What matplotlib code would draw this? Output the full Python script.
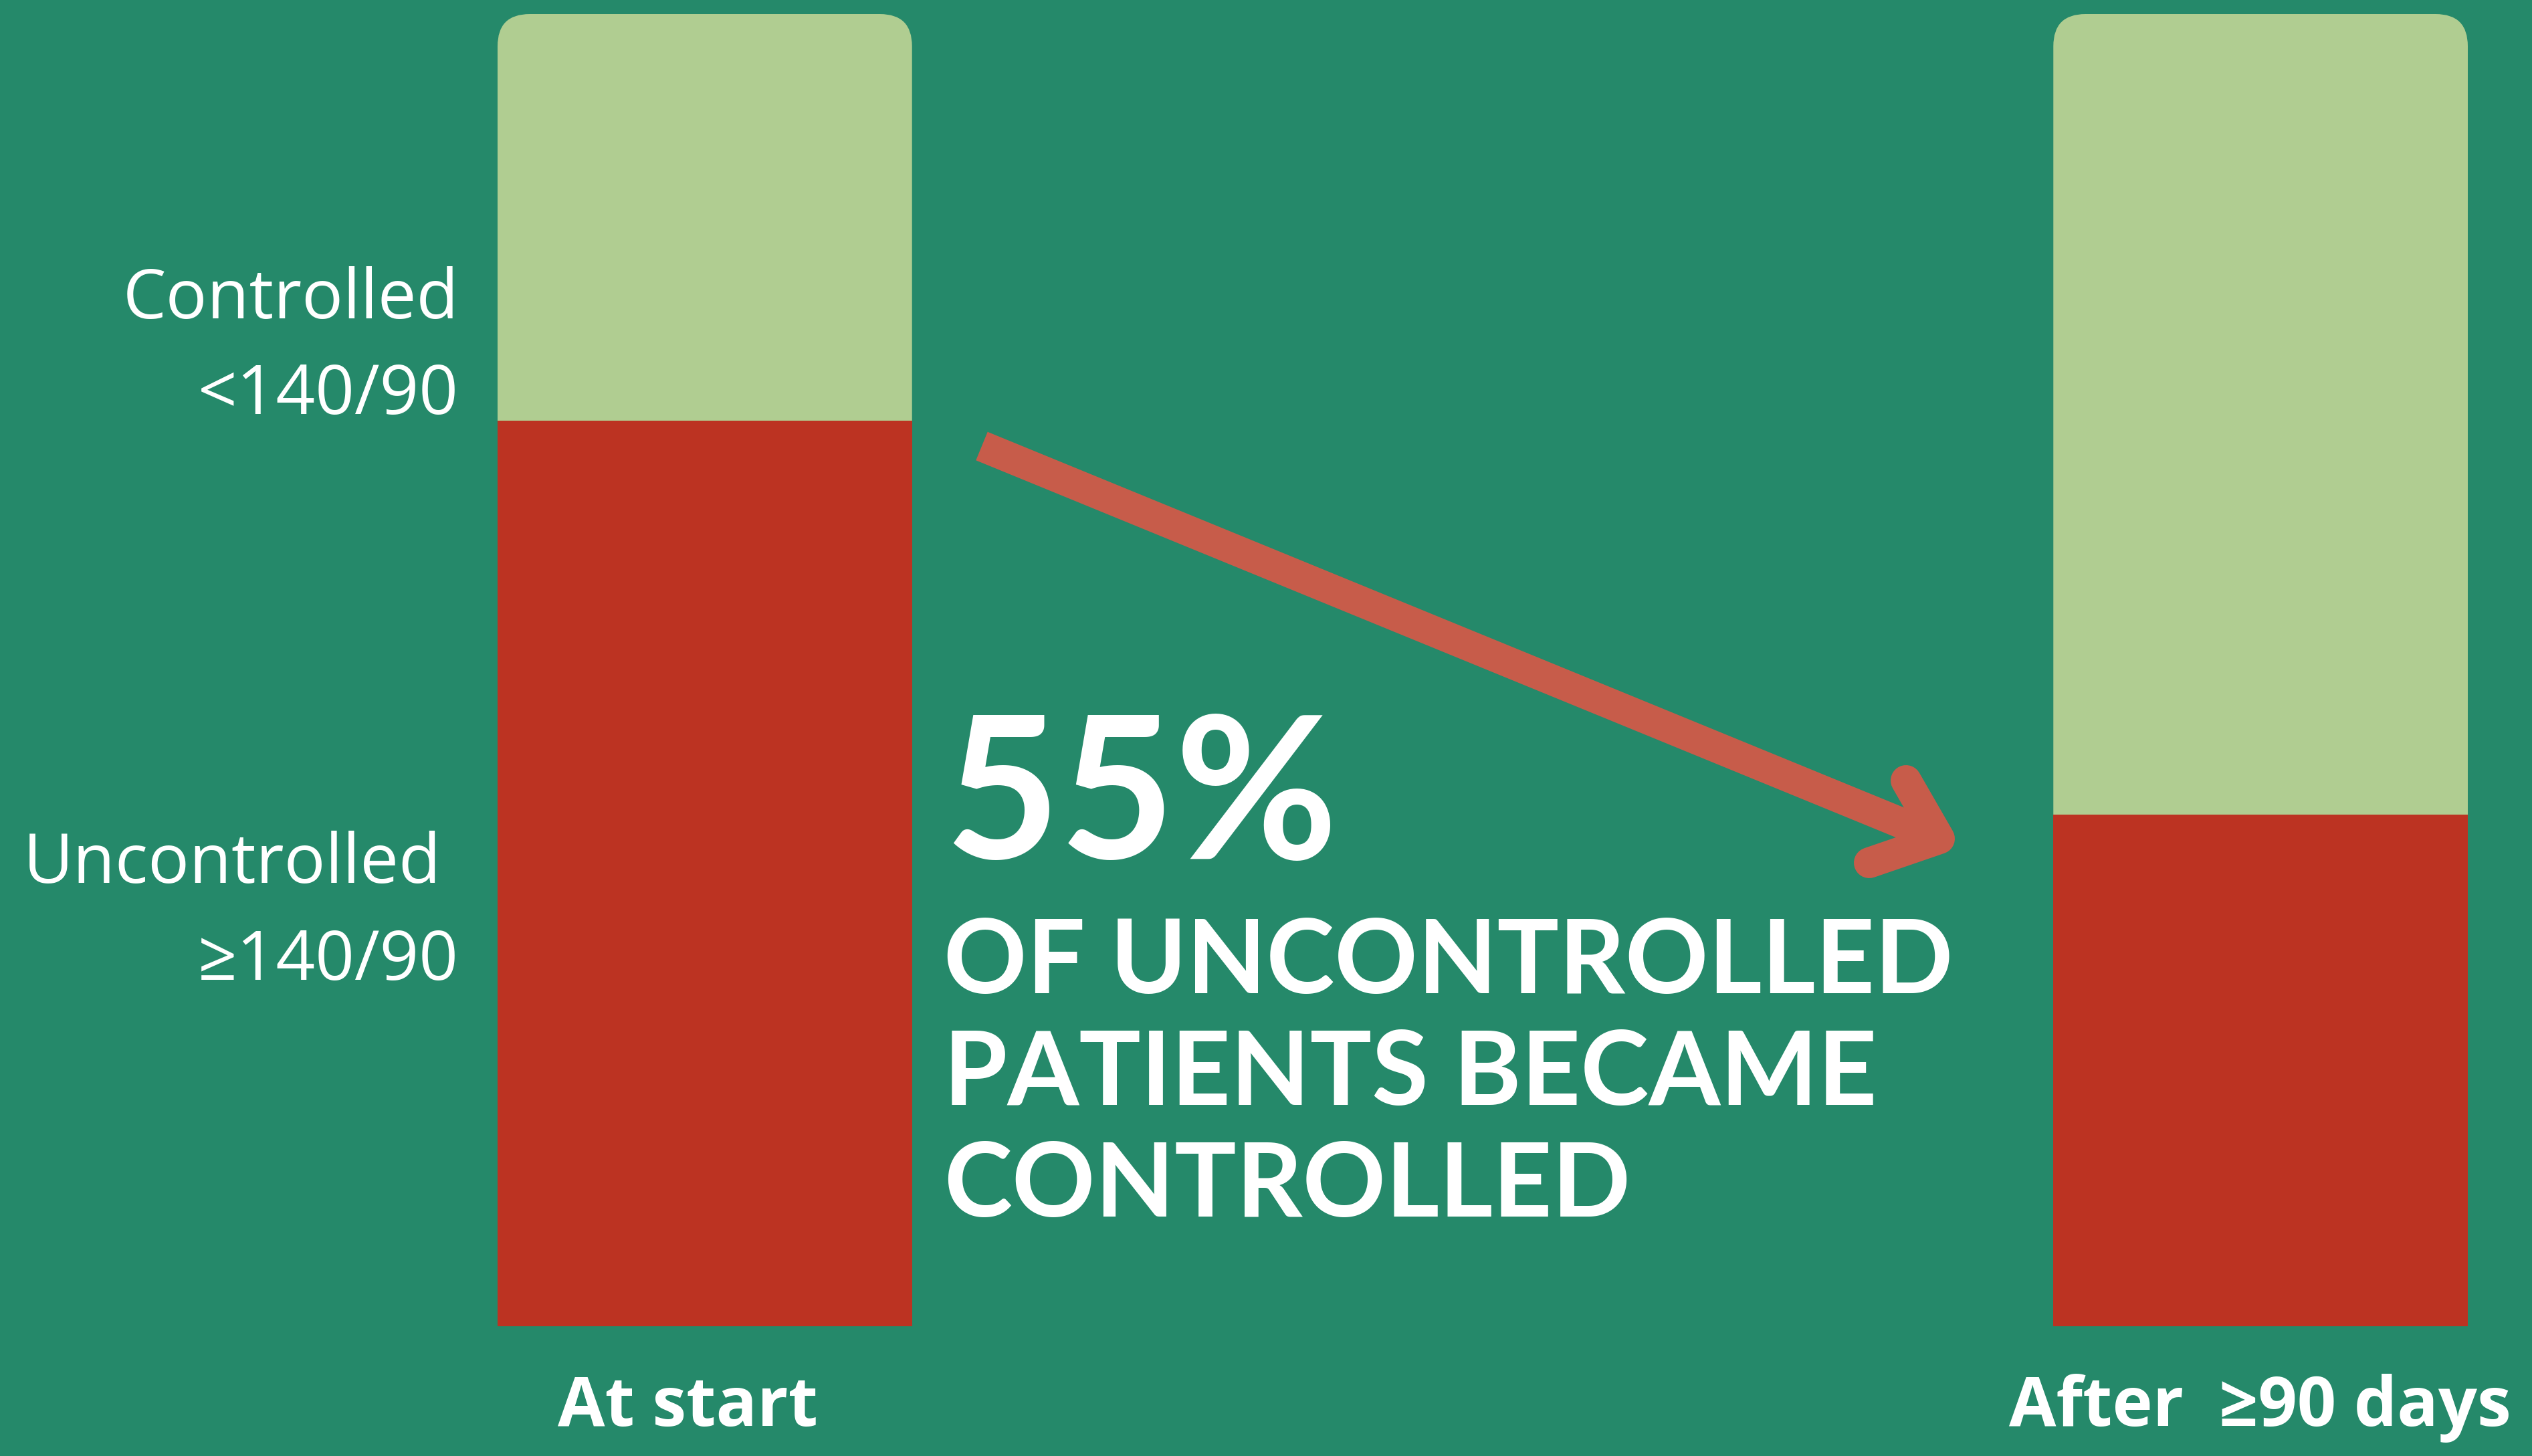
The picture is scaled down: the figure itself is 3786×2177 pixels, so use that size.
import numpy as np
import matplotlib
matplotlib.use("Agg")
import matplotlib.pyplot as plt
from matplotlib.patches import FancyBboxPatch

# data (percent of patients)
periods = ["At start", "After  \u226590 days"]
uncontrolled = [69, 39]
controlled = [31, 61]
stat_value = "55%"
stat_text = ["OF UNCONTROLLED", "PATIENTS BECAME", "CONTROLLED"]
legend_rows = [("Controlled", "<140/90"), ("Uncontrolled", "\u2265140/90")]

W, H = 3786, 2177
bg = "#25896A"
light_green = "#B0CD91"
red = "#BC3322"
arrow_col = "#C75C4A"

fig = plt.figure(figsize=(W / 100, H / 100), dpi=100)
fig.patch.set_facecolor(bg)

# bar axes, placed over the bar region (pixels 744..3690, 21..1983)
barw = 0.2664
ax = fig.add_axes([744 / W, (H - 1983) / H, (3690 - 744) / W, 1962 / H])
ax.set_xlim(-barw / 2, 1 + barw / 2)
ax.set_ylim(0, 100)
ax.axis("off")
ax.patch.set_alpha(0)

x = np.arange(len(periods))
red_bars = ax.bar(x, uncontrolled, width=barw, color=red, zorder=3, linewidth=0)
green_bars = ax.bar(x, controlled, bottom=uncontrolled, width=barw, color=light_green,
                    zorder=2, linewidth=0)

# rounded top corners: redraw green as a rounded box from 0 to top, red covers lower corners
fig.canvas.draw()
p0 = ax.transData.transform((0, 0))
p1 = ax.transData.transform((1, 1))
xu_per_px = 1 / (p1[0] - p0[0])
yu_per_px = 1 / (p1[1] - p0[1])
radius_px = 48
for b in green_bars:
    top = b.get_y() + b.get_height()
    patch = FancyBboxPatch((b.get_x(), 0), b.get_width(), top,
                           boxstyle="round,pad=0,rounding_size=%f" % (radius_px * xu_per_px),
                           mutation_aspect=yu_per_px / xu_per_px,
                           facecolor=light_green, edgecolor="none", zorder=2)
    ax.add_patch(patch)
    b.set_visible(False)

# overlay axes in pixel coordinates for labels and arrow
ov = fig.add_axes([0, 0, 1, 1])
ov.set_xlim(0, W)
ov.set_ylim(H, 0)
ov.axis("off")
ov.patch.set_alpha(0)

sans = ["Open Sans", "DejaVu Sans"]
lab_size = 74
ov.text(686, 476, legend_rows[0][0], ha="right", va="baseline", color="white",
        fontsize=lab_size, family=sans)
ov.text(686, 619, legend_rows[0][1], ha="right", va="baseline", color="white",
        fontsize=lab_size, family=sans)
ov.text(660, 1320, legend_rows[1][0], ha="right", va="baseline", color="white",
        fontsize=lab_size, family=sans)
ov.text(686, 1465, legend_rows[1][1], ha="right", va="baseline", color="white",
        fontsize=lab_size, family=sans)

ov.text(1028, 2132, periods[0], ha="center", va="baseline", color="white",
        fontsize=73.5, fontweight="bold", family=sans)
ov.text(3379, 2132, periods[1], ha="center", va="baseline", color="white",
        fontsize=73.5, fontweight="bold", family=sans)

# big statistic
ov.text(1412, 1284, stat_value, ha="left", va="baseline", color="white",
        fontsize=214, fontweight="bold", family=["Lato", "DejaVu Sans"])
for i, line in enumerate(stat_text):
    ov.text(1411, 1485 + i * 167, line, ha="left", va="baseline", color="white",
            fontsize=111, fontweight="bold", family=["Lato", "DejaVu Sans"])

# arrow
lw = 46 * 72 / 100
ov.plot([1468, 2900], [667, 1254], color=arrow_col, lw=lw, solid_capstyle="butt", zorder=5)
ov.plot([2850, 2900, 2795], [1167, 1254, 1290], color=arrow_col, lw=lw,
        solid_capstyle="round", solid_joinstyle="round", zorder=5)

fig.savefig("out.png", dpi=100, facecolor=bg)
